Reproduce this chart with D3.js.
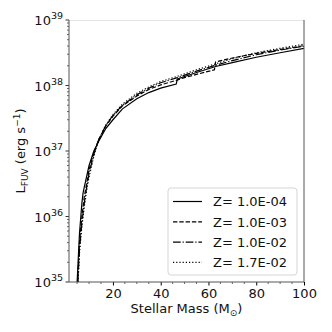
<!DOCTYPE html>
<html>
<head>
<meta charset="utf-8">
<script src="https://cdn.jsdelivr.net/npm/d3@7/dist/d3.min.js"></script>
<style>
  html, body { margin: 0; padding: 0; background: #fff; }
  svg { display: block; font-family: "DejaVu Sans", sans-serif; }
</style>
</head>
<body>
<svg id="chart" width="332" height="332"></svg>
<script>
// Z = 1.0E-04 (solid)
const massZ1 = [5, 6, 7, 7.5, 8, 10, 12, 14, 17, 20, 24, 30, 35, 40, 46.5, 47, 55, 63, 70, 80, 90, 100];
const lumZ1 = [1.0e35, 5.6e35, 1.6e36, 2.3e36, 2.8e36, 6.0e36, 1.0e37, 1.4e37, 2.2e37, 3.0e37, 4.4e37, 6.3e37, 7.8e37, 9.1e37, 1.05e38, 1.26e38, 1.58e38, 1.95e38, 2.24e38, 2.7e38, 3.16e38, 3.7e38];
// Z = 1.0E-03 (dashed)
const massZ2 = [5.2, 6, 7, 8, 8.5, 10, 12, 14, 17, 20, 24, 30, 35, 40, 46.5, 50, 55, 62.5, 63, 70, 80, 90, 100];
const lumZ2 = [1.0e35, 4.0e35, 1.0e36, 2.0e36, 2.5e36, 5.2e36, 9.5e36, 1.48e37, 2.4e37, 3.4e37, 4.9e37, 6.9e37, 8.7e37, 1.02e38, 1.2e38, 1.32e38, 1.48e38, 1.74e38, 2.29e38, 2.63e38, 3.09e38, 3.55e38, 4.07e38];
// Z = 1.0E-02 (dash-dot)
const massZ3 = [5.3, 6, 7, 8, 9, 10, 12, 14, 17, 20, 24, 30, 35, 40, 47, 55, 63, 70, 80, 90, 100];
const lumZ3 = [1.0e35, 3.2e35, 7.9e35, 1.6e36, 2.8e36, 4.5e36, 8.9e36, 1.48e37, 2.45e37, 3.5e37, 5.0e37, 7.2e37, 9.1e37, 1.1e38, 1.32e38, 1.66e38, 2.04e38, 2.4e38, 2.95e38, 3.47e38, 3.98e38];
// Z = 1.7E-02 (dotted)
const massZ4 = [5.4, 6, 7, 8, 9, 10, 12, 14, 17, 20, 24, 30, 35, 40, 47, 55, 63, 70, 80, 90, 100];
const lumZ4 = [1.0e35, 2.8e35, 7.1e35, 1.4e36, 2.5e36, 4.0e36, 8.3e36, 1.45e37, 2.5e37, 3.6e37, 5.2e37, 7.6e37, 9.5e37, 1.15e38, 1.38e38, 1.74e38, 2.14e38, 2.57e38, 3.16e38, 3.7e38, 4.27e38];

const seriesLabels = ["Z= 1.0E-04", "Z= 1.0E-03", "Z= 1.0E-02", "Z= 1.7E-02"];
const xTicks = [20, 40, 60, 80, 100];
const yTickExp = [35, 36, 37, 38, 39];

const width = 332, height = 332;
const margin = { top: 20, right: 28, bottom: 50, left: 69 };
const svg = d3.select("#chart");

const x = d3.scaleLinear().domain([1.6, 100]).range([margin.left, width - margin.right]);
const y = d3.scaleLog().domain([1e35, 1e39]).range([height - margin.bottom, margin.top]);

const dashes = [null, "4.4,1.9", "7.7,1.9,1.2,1.9", "1.2,2"];
const series = [
  { mass: massZ1, lum: lumZ1 },
  { mass: massZ2, lum: lumZ2 },
  { mass: massZ3, lum: lumZ3 },
  { mass: massZ4, lum: lumZ4 },
];

svg.append("clipPath").attr("id", "clip").append("rect")
  .attr("x", margin.left).attr("y", margin.top)
  .attr("width", width - margin.left - margin.right)
  .attr("height", height - margin.top - margin.bottom);

const line = d3.line().x((d) => x(d[0])).y((d) => y(d[1]));
const plot = svg.append("g").attr("clip-path", "url(#clip)");
series.forEach((s, i) => {
  plot.append("path")
    .datum(s.mass.map((m, j) => [m, s.lum[j]]))
    .attr("fill", "none")
    .attr("stroke", "#000")
    .attr("stroke-width", 1.2)
    .attr("stroke-dasharray", dashes[i])
    .attr("d", line);
});

// x axis
const xMinor = d3.range(5, 100, 5).filter((v) => !xTicks.includes(v));
const xAxis = svg.append("g").attr("transform", `translate(0,${height - margin.bottom})`);
xAxis.call(d3.axisBottom(x).tickValues(xTicks).tickSizeOuter(0).tickSize(3.5).tickPadding(3.5));
xAxis.append("g").selectAll("line").data(xMinor).join("line")
  .attr("x1", (d) => x(d)).attr("x2", (d) => x(d)).attr("y1", 0).attr("y2", 2).attr("stroke", "#000").attr("stroke-width", 0.6);
xAxis.select(".domain").remove();
xAxis.selectAll("text").attr("font-size", 13).attr("fill", "#111").attr("font-family", "DejaVu Sans");

// y axis
const yMajor = yTickExp.map((e) => Math.pow(10, e));
const yMinor = [];
yTickExp.slice(0, -1).forEach((e) => { for (let k = 2; k < 10; k++) yMinor.push(k * Math.pow(10, e)); });
const yAxis = svg.append("g").attr("transform", `translate(${margin.left},0)`);
yAxis.selectAll(".maj").data(yMajor).join("line").attr("class", "maj")
  .attr("x1", -3.5).attr("x2", 0).attr("y1", (d) => y(d)).attr("y2", (d) => y(d)).attr("stroke", "#000").attr("stroke-width", 0.8);
yAxis.selectAll(".min").data(yMinor).join("line").attr("class", "min")
  .attr("x1", -2).attr("x2", 0).attr("y1", (d) => y(d)).attr("y2", (d) => y(d)).attr("stroke", "#000").attr("stroke-width", 0.6);
const yLab = yAxis.selectAll(".lab").data(yTickExp).join("text").attr("class", "lab")
  .attr("x", -6).attr("y", (d) => y(Math.pow(10, d)) + 5)
  .attr("text-anchor", "end").attr("font-size", 13).attr("fill", "#111");
yLab.append("tspan").text("10");
yLab.append("tspan").attr("dy", -6).attr("font-size", 9.5).text((d) => d);

// spines
const x0 = margin.left, x1 = width - margin.right, y0 = margin.top, y1 = height - margin.bottom;
svg.append("line").attr("x1", x0).attr("x2", x1).attr("y1", y0 + 0.5).attr("y2", y0 + 0.5).attr("stroke", "#e4e4e4");
svg.append("line").attr("x1", x0).attr("x2", x1).attr("y1", y1).attr("y2", y1).attr("stroke", "#555");
svg.append("line").attr("x1", x0).attr("x2", x0).attr("y1", y0).attr("y2", y1).attr("stroke", "#555");
svg.append("line").attr("x1", x1).attr("x2", x1).attr("y1", y0).attr("y2", y1).attr("stroke", "#555");

// axis labels
const xl = svg.append("text").attr("x", (x0 + x1) / 2).attr("y", 313)
  .attr("text-anchor", "middle").attr("font-size", 13).attr("fill", "#111");
xl.append("tspan").text("Stellar Mass (M");
xl.append("tspan").attr("font-size", 9).attr("dy", 3).text("⊙");
xl.append("tspan").attr("dy", -3).text(")");

const yl = svg.append("text").attr("transform", `translate(25,${(y0 + y1) / 2}) rotate(-90)`)
  .attr("text-anchor", "middle").attr("font-size", 13).attr("fill", "#111");
yl.append("tspan").text("L");
yl.append("tspan").attr("font-size", 9).attr("dy", 3).text("FUV");
yl.append("tspan").attr("dy", -3).text(" (erg s");
yl.append("tspan").attr("font-size", 9).attr("dy", -5).text("−1");
yl.append("tspan").attr("dy", 5).text(")");

// legend
const lg = svg.append("g").attr("transform", "translate(168,188)");
lg.append("rect").attr("width", 129).attr("height", 87).attr("rx", 3)
  .attr("fill", "#fff").attr("fill-opacity", 0.8).attr("stroke", "#d5d5d5");
seriesLabels.forEach((lab, i) => {
  const yy = 13.5 + i * 20.3;
  lg.append("line").attr("x1", 5).attr("x2", 34).attr("y1", yy).attr("y2", yy)
    .attr("stroke", "#000").attr("stroke-width", 1.2).attr("stroke-dasharray", dashes[i]);
  lg.append("text").attr("x", 45).attr("y", yy + 4.8).attr("font-size", 13).attr("fill", "#111").text(lab);
});
</script>
</body>
</html>
